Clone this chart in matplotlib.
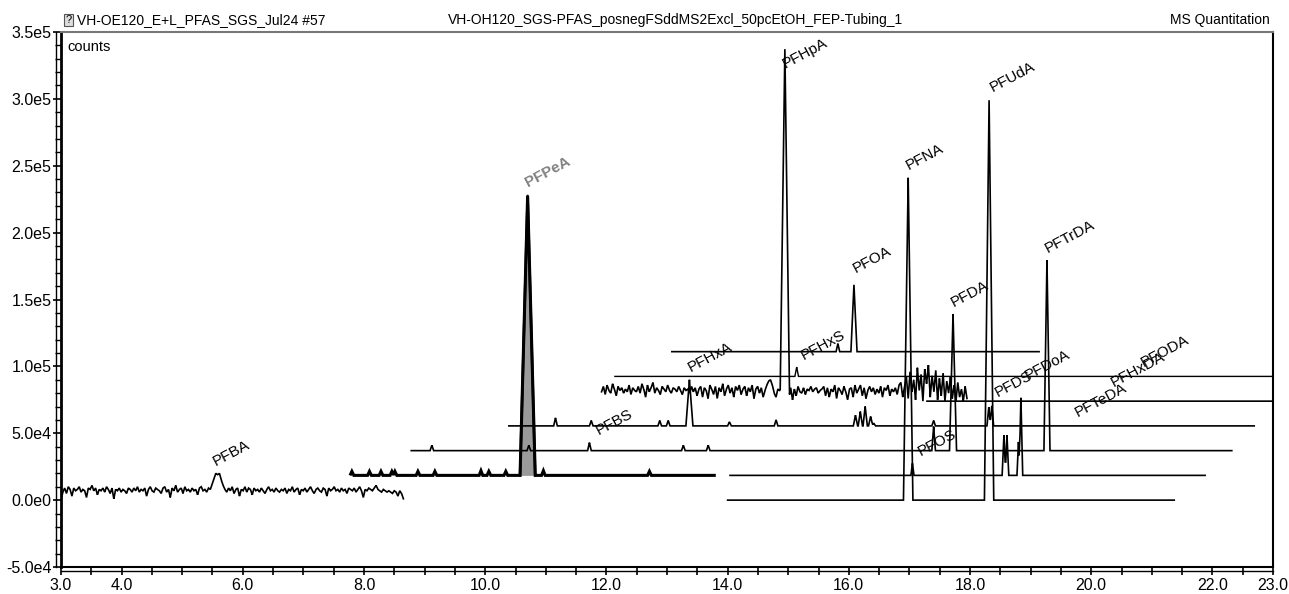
import numpy as np
import matplotlib
matplotlib.use("Agg")
import matplotlib.pyplot as plt
from matplotlib.ticker import FixedLocator, FuncFormatter

plt.rcParams['font.family'] = ['Liberation Sans', 'DejaVu Sans']

# ---------------- data ----------------
# trace baselines (counts), start/end retention times (min)
trace_offset = [0, 1.85e4, 1.85e4, 0, 3.7e4, 5.55e4, 7.4e4, 7.4e4, 9.25e4, 1.11e5]
trace_start = [3.0, 7.78, 14.04, 14.0, 8.78, 10.39, 11.92, 17.29, 12.14, 13.08]
trace_end = [8.65, 13.78, 21.88, 21.37, 22.32, 22.69, 17.95, 23.0, 23.0, 19.14]
trace_lw = [1.2, 2.2, 1.2, 1.2, 1.2, 1.2, 1.2, 1.2, 1.0, 1.2]

# noisy traces (x1e3 counts above baseline)
pfba_noise = [0, 6, 9, 5, 10, 8, 3, 9, 7, 8,
              10, 6, 8, 7, 2, 9, 8, 11, 7, 9,
              4, 8, 7, 9, 6, 10, 8, 5, 9, 1,
              8, 7, 9, 6, 8, 7, 5, 9, 8, 6,
              9, 7, 10, 6, 8, 7, 9, 3, 8, 10,
              7, 6, 9, 8, 7, 5, 9, 10, 6, 8,
              2, 9, 7, 11, 6, 8, 9, 5, 10, 7,
              8, 6, 9, 7, 8, 4, 9, 10, 7, 8,
              6, 9, 8, 12, 16, 20, 19, 20, 15, 11,
              8, 6, 9, 7, 10, 5, 8, 9, 3, 8,
              7, 10, 6, 9, 8, 4, 9, 7, 8, 6,
              9, 7, 5, 8, 10, 7, 8, 6, 9, 7,
              6, 8, 7, 9, 5, 8, 7, 10, 6, 8,
              9, 4, 8, 7, 9, 6, 8, 10, 7, 5,
              8, 9, 7, 6, 9, 8, 3, 9, 7, 8,
              10, 7, 8, 6, 9, 7, 8, 5, 9, 8,
              7, 9, 6, 8, 10, 7, 2, 8, 7, 9,
              8, 7, 9, 11, 8, 7, 6, 8, 7, 6,
              7, 6, 5, 7, 6, 3, 7, 5, 1]
mid_noise = [7, 11, 5, 12, 8, 6, 13, 9, 4, 11,
             8, 10, 6, 9, 7, 12, 5, 10, 8, 7,
             11, 6, 13, 9, 3, 12, 7, 10, 14, 6,
             10, 8, 5, 11, 9, 7, 12, 8, 6, 10,
             9, 7, 11, 8, 5, 10, 8, 9, 6, 11,
             7, 10, 4, 9, 11, 3, 10, 8, 2, 12,
             9, 5, 11, 2, 10, 7, 13, 4, 9, 12,
             6, 10, 3, 11, 8, 12, 5, 9, 11, 4,
             10, 7, 12, 2, 9, 11, 6, 10, 3, 8,
             12, 15, 16, 12, 6, 3, 9, 8, 10, 9,
             8, 9, 2, 10, 1, 9, 4, 11, 7, 6,
             10, 5, 9, 8, 11, 7, 9, 10, 6, 8,
             9, 11, 4, 10, 3, 9, 7, 12, 2, 10,
             8, 5, 11, 7, 1, 9, 10, 3, 12, 6,
             9, 12, 4, 10, 2, 8, 11, 7, 10, 5,
             9, 6, 11, 3, 10, 8, 12, 4, 9, 7,
             10, 5, 12, 14, 3, 11, 18, 2, 22, 7,
             16, 1, 25, 8, 20, 0, 24, 13, 27, 3,
             19, 7, 23, 1, 17, 4, 21, 0, 15, 6,
             18, 2, 12, 0, 14, 3, 9, 0, 11, 2]
noise_of_trace = {0: pfba_noise, 6: mid_noise}

# peaks: trace index, retention time, height above baseline, half base width
peak_trace = [1, 1, 1, 1, 1, 1, 1, 1, 1, 1, 1, 1, 1,
              2, 2, 2, 2, 2,
              3, 3,
              4, 4, 4, 4, 4, 4, 4, 4,
              5, 5, 5, 5, 5, 5, 5, 5, 5, 5, 5, 5, 5, 5, 5,
              6, 8, 9, 9]
peak_rt = [7.80, 8.09, 8.28, 8.46, 8.51, 8.89, 9.17, 9.93, 10.06, 10.34, 10.70, 10.96, 12.71,
           17.05, 18.56, 18.61, 18.80, 18.84,
           16.98, 18.315,
           9.12, 10.72, 11.72, 13.27, 13.68, 17.40, 17.72, 19.27,
           11.16, 11.75, 12.88, 13.02, 13.37, 14.03, 14.80, 16.11, 16.19, 16.27, 16.36, 16.41,
           17.40, 18.31, 18.36,
           14.945, 15.14, 15.82, 16.085]
peak_height = [3e3, 3e3, 3e3, 3e3, 3e3, 3e3, 3e3, 3.5e3, 3e3, 3e3, 2.09e5, 3.5e3, 3e3,
               9e3, 3.0e4, 3.0e4, 2.5e4, 5.8e4,
               2.41e5, 2.99e5,
               4e3, 4e3, 6e3, 4e3, 4e3, 1.8e4, 1.02e5, 1.425e5,
               6e3, 4e3, 4e3, 4e3, 3.45e4, 3e3, 4.5e3, 8e3, 1.07e4, 1.45e4, 7e3, 2e3,
               4e3, 1.4e4, 1.5e4,
               2.55e5, 7e3, 6e3, 5.0e4]
peak_halfwidth = [0.03, 0.03, 0.03, 0.03, 0.03, 0.03, 0.03, 0.03, 0.03, 0.03, 0.125, 0.03, 0.03,
                  0.025, 0.03, 0.03, 0.025, 0.03,
                  0.078, 0.077,
                  0.03, 0.03, 0.03, 0.03, 0.03, 0.03, 0.058, 0.05,
                  0.03, 0.03, 0.03, 0.03, 0.058, 0.03, 0.03, 0.035, 0.035, 0.035, 0.035, 0.03,
                  0.03, 0.03, 0.03,
                  0.077, 0.03, 0.03, 0.05]

# compound labels and their positions (rt, counts)
label_text = ['PFBA', 'PFPeA', 'PFBS', 'PFHxA', 'PFHxS', 'PFHpA', 'PFOA', 'PFNA', 'PFDA',
              'PFUdA', 'PFTrDA', 'PFOS', 'PFDS', 'PFDoA', 'PFTeDA', 'PFHxDA', 'PFODA']
label_x = [5.56, 10.71, 11.88, 13.40, 15.25, 14.95, 16.11, 16.99, 17.73,
           18.37, 19.29, 17.18, 18.45, 18.95, 19.77, 20.38, 20.86]
label_y = [2.54e4, 2.34e5, 4.86e4, 9.6e4, 1.047e5, 3.23e5, 1.70e5, 2.47e5, 1.446e5,
           3.05e5, 1.845e5, 3.3e4, 7.73e4, 8.98e4, 6.19e4, 8.47e4, 9.97e4]

x_ticks_labeled = [3.0, 4.0, 6.0, 8.0, 10.0, 12.0, 14.0, 16.0, 18.0, 20.0, 22.0, 23.0]
y_ticks_labeled = [-5e4, 0, 5e4, 1e5, 1.5e5, 2e5, 2.5e5, 3e5, 3.5e5]

header_left = 'VH-OE120_E+L_PFAS_SGS_Jul24 #57'
header_mid = 'VH-OH120_SGS-PFAS_posnegFSddMS2Excl_50pcEtOH_FEP-Tubing_1'
header_right = 'MS Quantitation'

# ---------------- figure ----------------
W, H = 1289, 594
fig = plt.figure(figsize=(W / 100, H / 100), dpi=100)
ax = fig.add_axes([61 / W, 1 - 567 / H, (1273 - 61) / W, (567 - 32) / H])
ax.set_xlim(3.0, 23.0)
ax.set_ylim(-5e4, 3.5e5)

pk_tr = np.array(peak_trace)
pk_rt = np.array(peak_rt)
pk_h = np.array(peak_height)
pk_w = np.array(peak_halfwidth)


def peak_shape(t, rt, h, w):
    return h * np.clip(1 - np.abs(t - rt) / w, 0, None)


for i in range(len(trace_offset)):
    sel = pk_tr == i
    t = np.arange(trace_start[i], trace_end[i] + 1e-9, 0.002)
    # make sure peak apexes and feet are on the time grid
    extra = np.concatenate([pk_rt[sel], pk_rt[sel] - pk_w[sel], pk_rt[sel] + pk_w[sel]])
    extra = extra[(extra >= trace_start[i]) & (extra <= trace_end[i])]
    t = np.union1d(t, extra)
    y = np.zeros_like(t)
    if i in noise_of_trace:
        vals = np.array(noise_of_trace[i], dtype=float) * 1e3
        tn = np.linspace(trace_start[i], trace_end[i], len(vals))
        t = np.union1d(t, tn)
        y = np.interp(t, tn, vals)
    for rt, h, w in zip(pk_rt[sel], pk_h[sel], pk_w[sel]):
        y = y + peak_shape(t, rt, h, w)
    y = y + trace_offset[i]
    if i == 1:
        m = (t >= 10.70 - 0.125) & (t <= 10.70 + 0.125)
        ax.fill_between(t[m], trace_offset[i], y[m], color='#9a9a9a', lw=0, zorder=2)
        ax.plot(t[m], y[m], color='#111111', lw=1.8, zorder=3)
    ax.plot(t, y, color='black', lw=trace_lw[i], zorder=3, solid_joinstyle='miter')

for txt, lx, ly in zip(label_text, label_x, label_y):
    col = '#808080' if txt == 'PFPeA' else 'black'
    fw = 'bold' if txt == 'PFPeA' else 'normal'
    ax.text(lx, ly, txt, rotation=28, rotation_mode='anchor', ha='left', va='baseline',
            fontsize=11, color=col, fontweight=fw, zorder=5)

ax.text(0.005, 0.985, 'counts', transform=ax.transAxes, ha='left', va='top', fontsize=10.5)

# axes styling
ax.spines['top'].set_color('#777777')
ax.spines['top'].set_linewidth(1.5)
ax.spines['right'].set_linewidth(1.5)
ax.spines['left'].set_linewidth(2.0)
ax.spines['bottom'].set_linewidth(1.5)

ax.xaxis.set_major_locator(FixedLocator(np.arange(3.0, 23.01, 0.5)))
ax.xaxis.set_major_formatter(FuncFormatter(
    lambda v, p: f'{v:.1f}' if any(abs(v - q) < 1e-6 for q in x_ticks_labeled) else ''))
ax.yaxis.set_major_locator(FixedLocator(y_ticks_labeled))
ax.yaxis.set_minor_locator(FixedLocator(np.arange(-5e4, 3.5e5 + 1, 1e4)))


def yfmt(v, p):
    if abs(v) < 1e-9:
        return '0.0e0'
    e = int(np.floor(np.log10(abs(v))))
    return f'{v / 10 ** e:.1f}e{e}'


ax.yaxis.set_major_formatter(FuncFormatter(yfmt))
ax.tick_params(axis='both', which='major', length=6, width=1.2, labelsize=11.5, direction='out')
ax.tick_params(axis='y', which='minor', length=4, width=1.0, direction='out')
ax.tick_params(axis='x', pad=2)
ax.tick_params(axis='y', pad=1)

# outer axis lines (double-frame look)
fig.add_artist(plt.Line2D([56 / W, 56 / W], [1 - 567 / H, 1 - 32 / H], color='black', lw=1.0))
fig.add_artist(plt.Line2D([61 / W, 1273 / W], [1 - 571 / H, 1 - 571 / H], color='black', lw=1.0))

# header
fig.text(77 / W, 1 - 20 / H, header_left, ha='left', va='center', fontsize=10)
fig.text(675 / W, 1 - 20 / H, header_mid, ha='center', va='center', fontsize=10)
fig.text(1270 / W, 1 - 20 / H, header_right, ha='right', va='center', fontsize=10)
fig.text(68.5 / W, 1 - 20 / H, '?', ha='center', va='center', fontsize=8,
         bbox=dict(boxstyle='square,pad=0.1', fc='#dddddd', ec='#555555', lw=0.8))

fig.savefig('out.png', dpi=100)
